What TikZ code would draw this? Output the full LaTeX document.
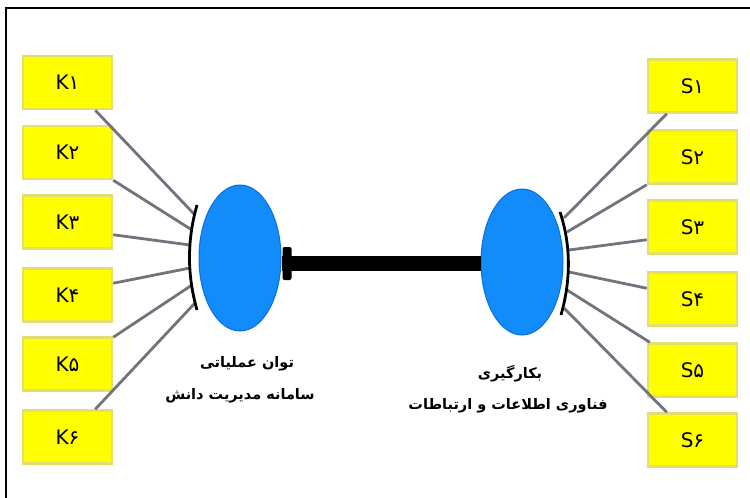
\documentclass[tikz,border=0pt]{standalone}
\usepackage{fontspec}
\newfontfamily\arabicfont[Script=Arabic]{DejaVu Sans}
\newfontfamily\labfont{DejaVu Sans}
\TeXXeTstate=1
\usetikzlibrary{shapes.geometric}
\definecolor{boxyellow}{RGB}{255,255,0}
\definecolor{boxedge}{RGB}{228,222,110}
\definecolor{blobblue}{RGB}{18,140,250}
\definecolor{blobedge}{RGB}{10,110,220}
\definecolor{wire}{RGB}{115,115,125}
\tikzset{
  kbox/.style={rectangle, fill=boxyellow, draw=boxedge, line width=2.5pt, minimum width=89pt, minimum height=53pt, inner sep=0pt, font=\labfont\fontsize{20}{20}\selectfont},
  blob/.style={ellipse, fill=blobblue, draw=blobedge, line width=1pt, minimum width=82pt, minimum height=146pt, inner sep=0pt},
  wireline/.style={draw=wire, line width=2.8pt},
  arcline/.style={draw=black, line width=2.8pt},
  caption/.style={font=\arabicfont\bfseries\fontsize{14.5}{16}\selectfont, inner sep=0pt}
}
\begin{document}
\begin{tikzpicture}[x=1pt,y=-1pt]
\useasboundingbox (0,0) rectangle (750,498);
% frame
\draw[line width=1.5pt] (6,498) -- (6,8) -- (750,8);
% boxes
\node[kbox] (K1) at (67.5,82.5) {K\arabicfont ۱};
\node[kbox] (K2) at (67.5,152.5) {K\arabicfont ۲};
\node[kbox] (K3) at (67.5,222) {K\arabicfont ۳};
\node[kbox] (K4) at (67.5,295) {K\arabicfont ۴};
\node[kbox] (K5) at (67.5,364) {K\arabicfont ۵};
\node[kbox] (K6) at (67.5,437) {K\arabicfont ۶};
\node[kbox] (S1) at (692.5,86) {S\arabicfont ۱};
\node[kbox] (S2) at (692.5,157) {S\arabicfont ۲};
\node[kbox] (S3) at (692.5,227) {S\arabicfont ۳};
\node[kbox] (S4) at (692.5,299) {S\arabicfont ۴};
\node[kbox] (S5) at (692.5,370) {S\arabicfont ۵};
\node[kbox] (S6) at (692.5,440) {S\arabicfont ۶};
% arc attachment points
\coordinate (a1) at (195,215);
\coordinate (a2) at (192,230);
\coordinate (a3) at (190,245);
\coordinate (a4) at (190,268);
\coordinate (a5) at (192,285);
\coordinate (a6) at (195,303);
\coordinate (b1) at (564,218);
\coordinate (b2) at (567,232);
\coordinate (b3) at (569,250);
\coordinate (b4) at (569,272);
\coordinate (b5) at (567,290);
\coordinate (b6) at (564,308);
% wires
\draw[wireline] ([xshift=-18pt]K1.south east) -- (a1);
\draw[wireline] (K2.south east) -- (a2);
\draw[wireline] ([yshift=15pt]K3.south east) -- (a3);
\draw[wireline] ([yshift=-16pt]K4.north east) -- (a4);
\draw[wireline] ([yshift=-1pt]K5.north east) -- (a5);
\draw[wireline] ([xshift=-18pt]K6.north east) -- (a6);
\draw[wireline] ([xshift=20pt]S1.south west) -- (b1);
\draw[wireline] (S2.south west) -- (b2);
\draw[wireline] ([yshift=15pt]S3.south west) -- (b3);
\draw[wireline] ([yshift=-17pt]S4.north west) -- (b4);
\draw[wireline] ([xshift=3pt]S5.north west) -- (b5);
\draw[wireline] ([xshift=20pt]S6.north west) -- (b6);
% blobs
\node[blob] (L) at (240,258) {};
\node[blob] (R) at (522,262) {};
% arcs
\draw[arcline] (197,205) .. controls (187,240) and (187,275) .. (197,310);
\draw[arcline] (560,212) .. controls (571,245) and (571,280) .. (561,315);
% connector
\draw[line width=15pt] (R.west |- 0,263) -- (L.east |- 0,263);
\fill[rounded corners=2pt] ([xshift=1pt]L.east |- 0,247) rectangle ([xshift=10pt]L.east |- 0,280);
% captions
\node[caption] (c1) at (247,364) {\beginR توان عملیاتی\endR};
\node[caption] (c2) at (240,396) {\beginR سامانه مدیریت دانش\endR};
\node[caption] (c3) at (510,374) {\beginR بکارگیری\endR};
\node[caption] (c4) at (508,406) {\beginR فناوری اطلاعات و ارتباطات\endR};
\end{tikzpicture}
\end{document}
